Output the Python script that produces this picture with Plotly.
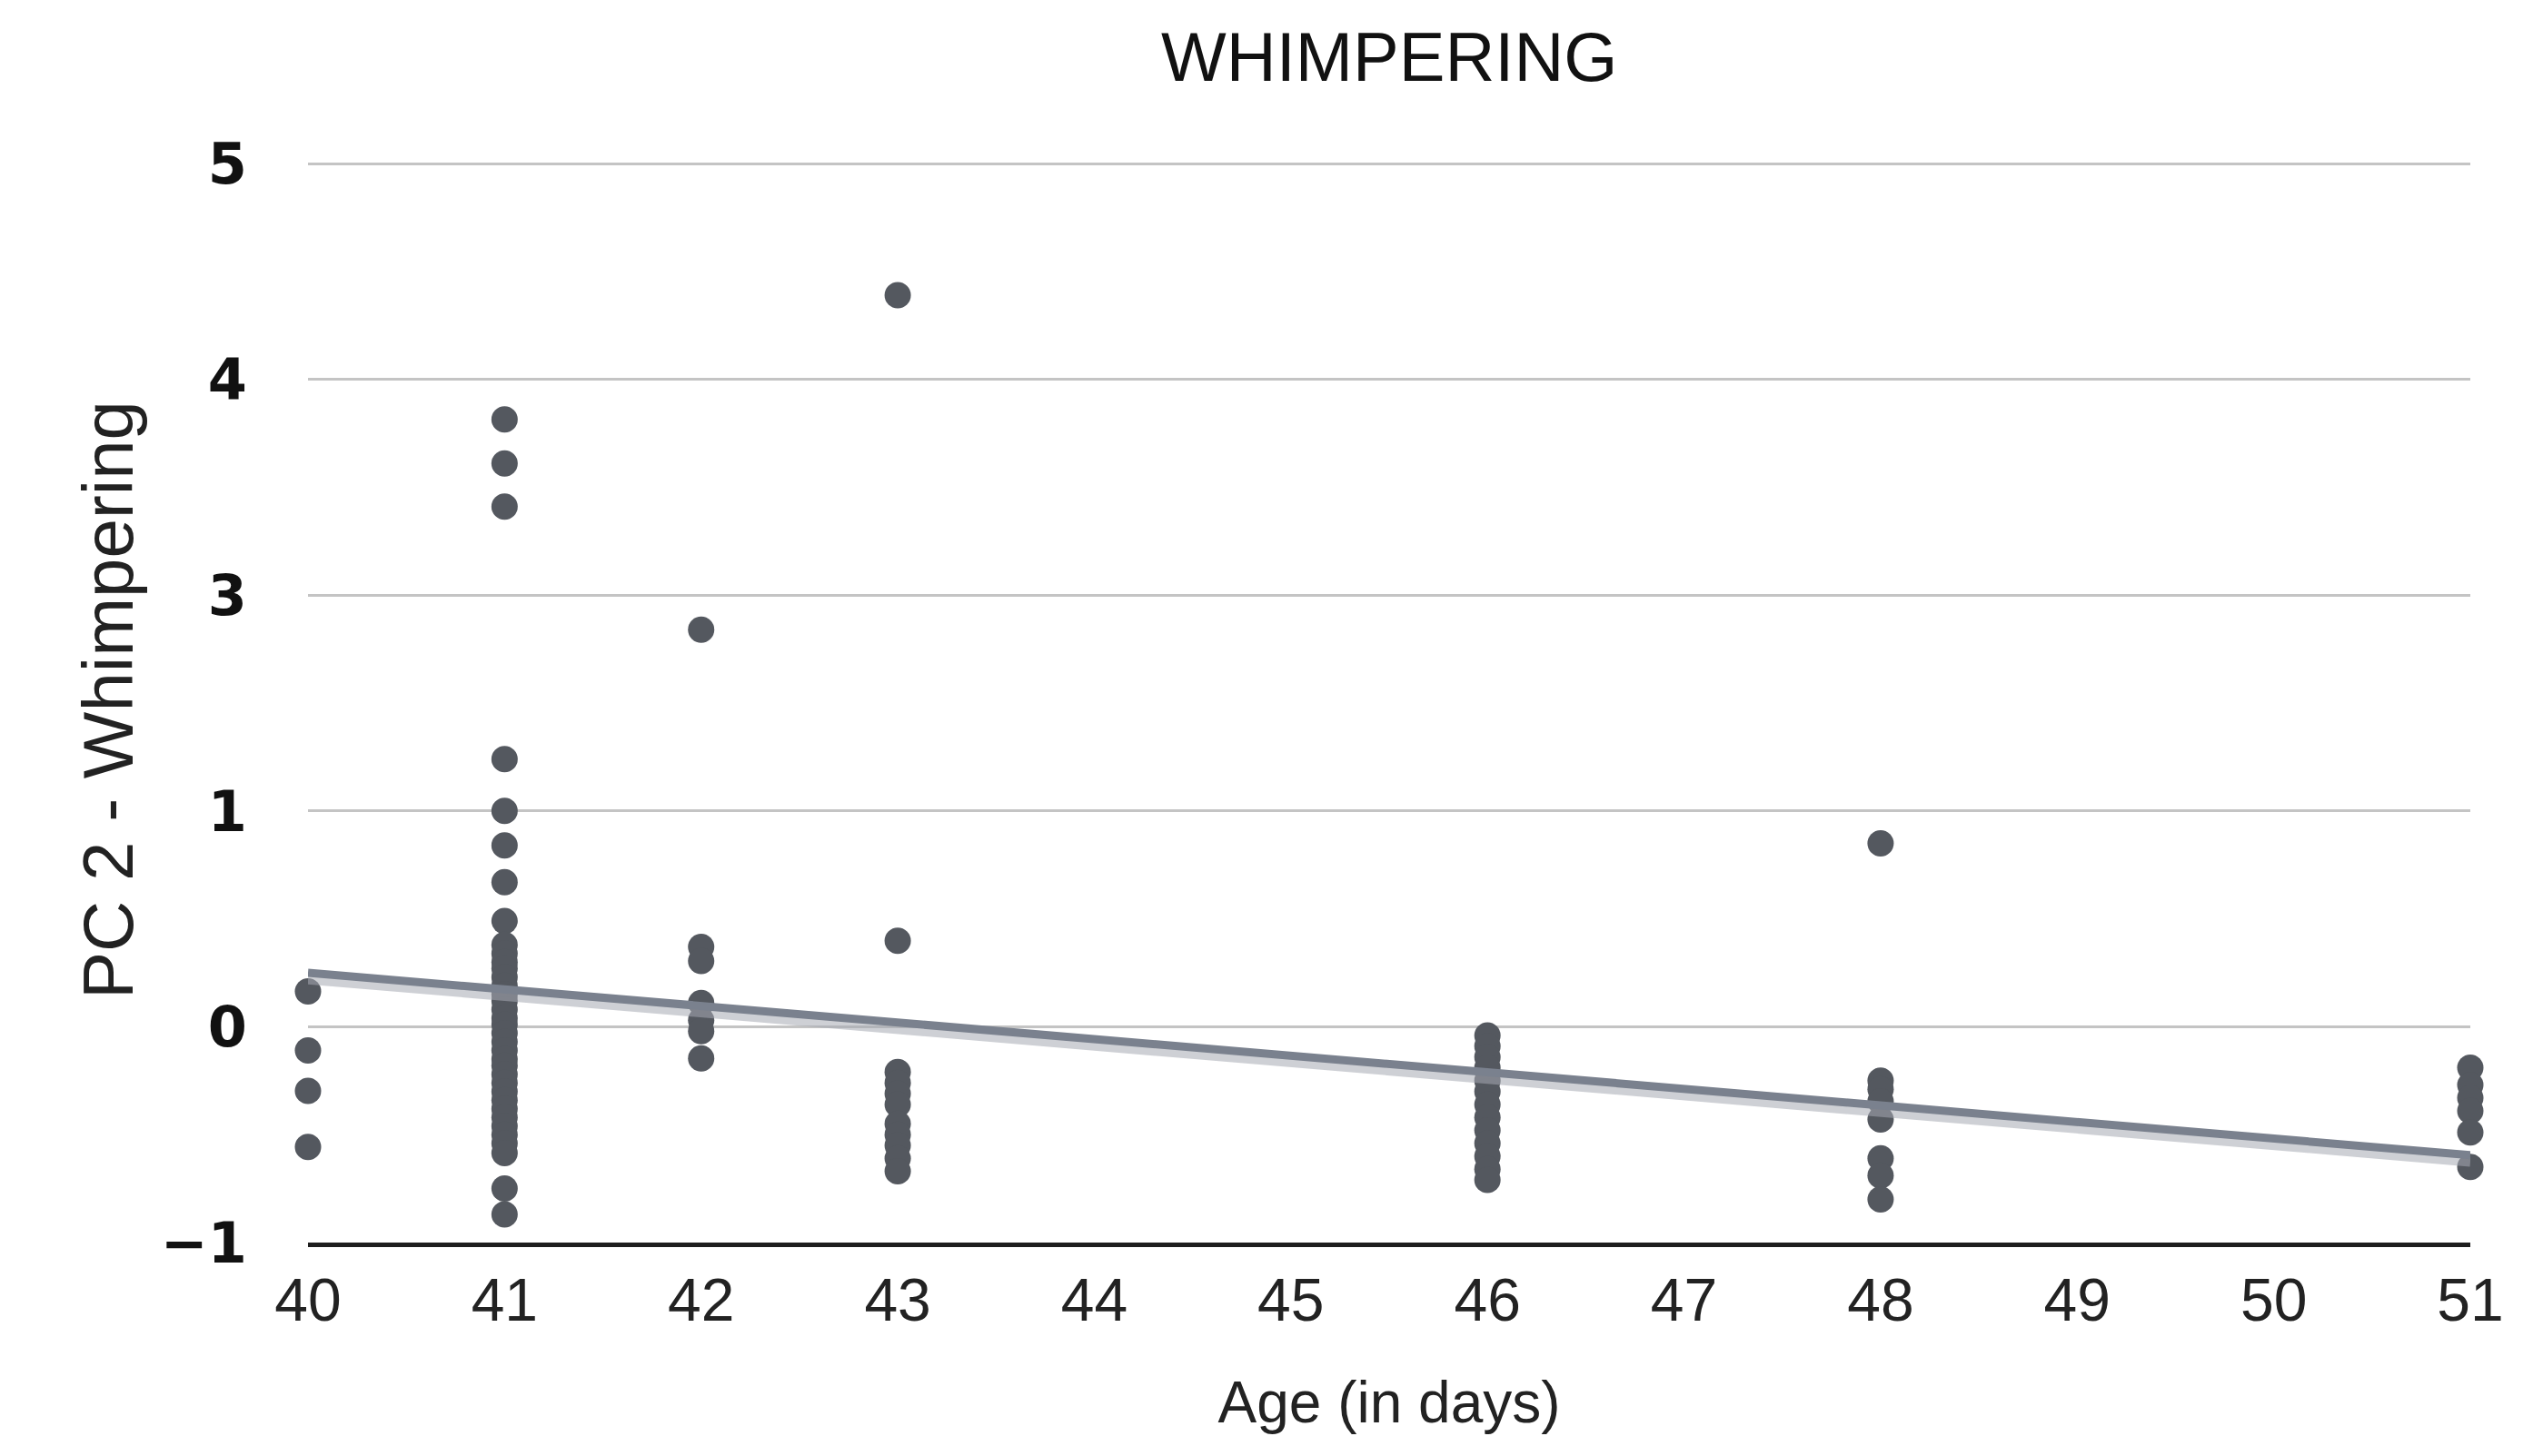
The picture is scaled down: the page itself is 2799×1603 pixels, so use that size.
import plotly.graph_objects as go

# ---- data (y in the chart's plotted axis units; gridlines labelled below) ----
ages = [40, 41, 42, 43, 46, 48, 51]
pc2_40 = [0.164, -0.11, -0.297, -0.557]
pc2_41 = [2.815, 2.61, 2.41, 1.24, 1.0, 0.84, 0.67, 0.49, 0.38, 0.34, 0.30, 0.27,
          0.23, 0.19, 0.15, 0.12, 0.08, 0.04, 0.01, -0.03, -0.07, -0.11, -0.15,
          -0.18, -0.22, -0.26, -0.30, -0.34, -0.38, -0.42, -0.46, -0.50, -0.54,
          -0.585, -0.75, -0.87]
pc2_42 = [1.84, 0.37, 0.305, 0.11, 0.03, -0.02, -0.147]
pc2_43 = [3.39, 0.398, -0.21, -0.26, -0.31, -0.36, -0.45, -0.50, -0.55, -0.61, -0.67]
pc2_46 = [-0.04, -0.09, -0.14, -0.19, -0.25, -0.30, -0.36, -0.42, -0.48, -0.54,
          -0.60, -0.66, -0.71]
pc2_48 = [0.85, -0.25, -0.29, -0.345, -0.43, -0.61, -0.69, -0.80]
pc2_51 = [-0.19, -0.27, -0.33, -0.39, -0.49, -0.65]

trend_x = [40, 51]
trend_y = [0.25, -0.595]

y_tickvals = [-1, 0, 1, 2, 3, 4]
y_ticktext = ["\u22121", "0", "1", "3", "4", "5"]
x_tickvals = list(range(40, 52))

groups = [pc2_40, pc2_41, pc2_42, pc2_43, pc2_46, pc2_48, pc2_51]
xs, ys = [], []
for a, vals in zip(ages, groups):
    xs += [a] * len(vals)
    ys += vals

fig = go.Figure()
fig.add_trace(go.Scatter(x=xs, y=ys, mode="markers",
                         marker=dict(size=29, color="#54585f", line=dict(width=0)),
                         cliponaxis=False, showlegend=False))
# soft shadow of the trend line
fig.add_trace(go.Scatter(x=trend_x, y=[v - 0.03 for v in trend_y], mode="lines",
                         line=dict(color="rgba(165,170,178,0.55)", width=11),
                         cliponaxis=False, showlegend=False))
fig.add_trace(go.Scatter(x=trend_x, y=trend_y, mode="lines",
                         line=dict(color="#7a818e", width=9),
                         cliponaxis=False, showlegend=False))

fig.update_layout(
    width=2799, height=1603,
    margin=dict(l=331, r=88, t=165, b=243),
    plot_bgcolor="white", paper_bgcolor="white",
    title=dict(text="WHIMPERING", x=0.5435, xanchor="center",
               y=1 - 54 / 1603, yanchor="middle", yref="container",
               font=dict(family="Liberation Sans", size=76, color="#111111")),
    xaxis=dict(range=[40, 51], tickvals=x_tickvals, showgrid=False, zeroline=False,
               showline=True, linecolor="#1e1e1e", linewidth=5,
               ticks="", ticklabelstandoff=2,
               tickfont=dict(family="Liberation Sans", size=66, color="#222222"),
               title=dict(text="Age (in days)", standoff=55,
                          font=dict(family="Liberation Sans", size=64, color="#222222"))),
    yaxis=dict(range=[-1, 4.03], tickvals=y_tickvals, ticktext=y_ticktext,
               showgrid=True, gridcolor="#c4c4c4", gridwidth=3, zeroline=False,
               showline=False, ticks="", ticklabelstandoff=66,
               tickfont=dict(family="DejaVu Sans", size=62, color="#111111", weight="bold"),
               title=dict(text="PC 2 - Whimpering", standoff=4,
                          font=dict(family="Liberation Sans", size=78, color="#222222"))),
)

fig.write_html("out.html")
